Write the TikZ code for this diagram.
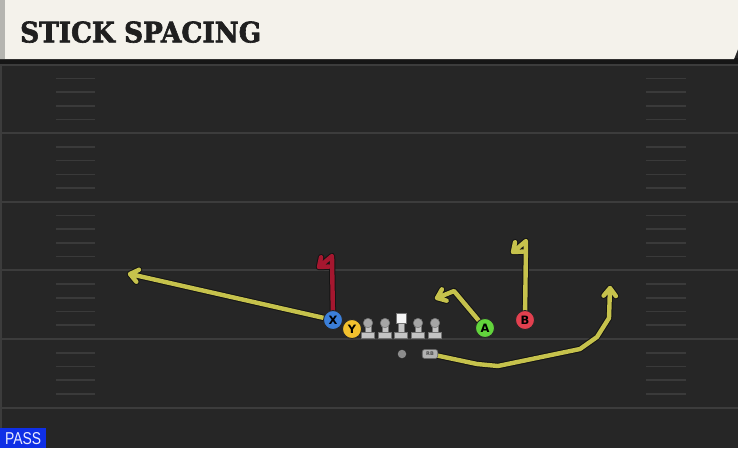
\documentclass[tikz,border=0pt]{standalone}
\usepackage{fontspec}
\usepackage{graphicx}
\usetikzlibrary{calc}
\newfontfamily\titlefont[BoldFeatures={FakeBold=2.2}]{DejaVu Serif}
\newfontfamily\labelfont{DejaVu Sans}
\newfontfamily\passfont{Liberation Sans}
\definecolor{fieldbg}{HTML}{262626}
\definecolor{yardline}{HTML}{3C3C3C}
\definecolor{hashc}{HTML}{3A3A3A}
\definecolor{headbg}{HTML}{F4F2EB}
\definecolor{headstripe}{HTML}{B5B5B0}
\definecolor{darkband}{HTML}{161616}
\definecolor{routeyel}{HTML}{C6C24C}
\definecolor{routered}{HTML}{A5172F}
\definecolor{pblue}{HTML}{3B7FD9}
\definecolor{pyellow}{HTML}{F2C12E}
\definecolor{pgreen}{HTML}{62D43C}
\definecolor{pred}{HTML}{E2404F}
\definecolor{linec}{HTML}{C4C4C4}
\definecolor{passblue}{HTML}{0F2FE6}
% #1 colour, #2 path ending at #3, previous point #4
\newcommand\routepath[4]{%
  \draw[routeback] #2 ($(#3)!10pt!38:(#4)$) -- (#3) -- ($(#3)!10pt!-38:(#4)$);
  \draw[routefront=#1] #2 ($(#3)!10pt!38:(#4)$) -- (#3) -- ($(#3)!10pt!-38:(#4)$);}
\tikzset{
  routeback/.style={draw=black!92, line width=6.4pt, line join=round, line cap=round},
  routefront/.style={draw=#1, line width=4.4pt, line join=round, line cap=round},
  player/.style={circle, draw=black!85, line width=0.9pt, fill=#1, minimum size=19pt,
    inner sep=0pt, font=\labelfont\bfseries\fontsize{11.5}{11.5}\selectfont, text=black},
  yard/.style={draw=yardline, line width=2pt},
  hash/.style={draw=hashc, line width=1.6pt},
  lineman/.style={fill=linec, draw=black!55, line width=0.5pt},
}
\begin{document}
\begin{tikzpicture}[x=1pt,y=-1pt]
\useasboundingbox (0,0) rectangle (738,448);
% background
\fill[fieldbg] (0,0) rectangle (738,448);
\fill[darkband] (0,58) rectangle (738,64);
\draw[yardline, line width=1.5pt] (1,64) -- (1,448);
% header
\fill[headbg] (0,0) -- (738,0) -- (738,49) -- (734,59) -- (0,59) -- cycle;
\fill[headstripe] (0,0) rectangle (5,59);
\node[anchor=south west, inner sep=0pt, text=black!88] (title) at (20,43)
  {\resizebox{241pt}{21pt}{\titlefont\bfseries STICK SPACING}};
% yard lines and hashes
\foreach \k in {0,...,5}{
  \pgfmathsetmacro\yl{64.6+68.6*\k}
  \draw[yard] (2,\yl) -- (738,\yl);
}
\foreach \k in {0,...,4}{
  \foreach \j in {1,...,4}{
    \pgfmathsetmacro\yh{64.6+68.6*\k+13.72*\j}
    \draw[hash] (56,\yh) -- (95,\yh);
    \draw[hash] (646,\yh) -- (686,\yh);
  }
}
% player positions
\coordinate (pX) at (333,320);
\coordinate (pY) at (352,329);
\coordinate (pA) at (485,328);
\coordinate (pB) at (525,320);
\coordinate (pRB) at (430,354);
% route ends and breaks
\coordinate (xend) at (130,274);
\coordinate (xr1) at (332,256);
\coordinate (xrend) at (319,267);
\coordinate (a1) at (454,291);
\coordinate (aend) at (437,298);
\coordinate (b1) at (526,241);
\coordinate (bend) at (513,252);
\coordinate (rb1) at (477,364);
\coordinate (rb2) at (498,366);
\coordinate (rb3) at (580,349);
\coordinate (rb4) at (597,337);
\coordinate (rb5) at (609,318);
\coordinate (rbend) at (610,288);
% routes
\routepath{routeyel}{(pX) -- (xend)}{xend}{pX}
\routepath{routered}{(pX) -- (xr1) -- (xrend)}{xrend}{xr1}
\routepath{routeyel}{(pA) -- (a1) -- (aend)}{aend}{a1}
\routepath{routeyel}{(pB) -- (b1) -- (bend)}{bend}{b1}
\routepath{routeyel}{(pRB) -- (rb1) -- (rb2) -- (rb3) -- (rb4) -- (rb5) -- (rbend)}{rbend}{rb5}
% offensive line
\foreach \lx/\nm in {368/l1,385/l2,418/l4,435/l5}{
  \draw[lineman] (\lx-3,325) rectangle (\lx+3,334);
  \draw[lineman] (\lx-6.5,332.5) rectangle (\lx+6.5,338);
  \node[circle, draw=black!55, fill=black!35!white, line width=0.5pt, minimum size=9.5pt, inner sep=0pt] (\nm) at (\lx,323) {};
}
\draw[lineman] (398,321) rectangle (404,334);
\draw[lineman] (394.5,332.5) rectangle (407.5,338);
\node[draw=black!55, fill=white!96!black, line width=0.5pt, minimum size=10.5pt, inner sep=0pt] (center) at (401,318) {};
% ball
\node[circle, fill=black!45, minimum size=8.5pt, inner sep=0pt] (ball) at (402,354) {};
% RB
\node[draw=black!60, fill=black!30!white, line width=0.6pt, rounded corners=2.5pt,
  minimum width=15.5pt, minimum height=9pt, inner sep=0pt,
  font=\labelfont\bfseries\fontsize{5}{5}\selectfont, text=black!70] (RB) at (pRB) {RB};
% skill players
\node[player=pblue] (X) at (pX) {X};
\node[player=pyellow] (Y) at (pY) {Y};
\node[player=pgreen] (A) at (pA) {A};
\node[player=pred] (B) at (pB) {B};
% PASS label
\fill[passblue] (0,428) rectangle (46,448);
\node[anchor=south west, inner sep=0pt, text=white!92!blue] (pass) at (5,445)
  {\resizebox{36pt}{12pt}{\passfont PASS}};
\end{tikzpicture}
\end{document}
